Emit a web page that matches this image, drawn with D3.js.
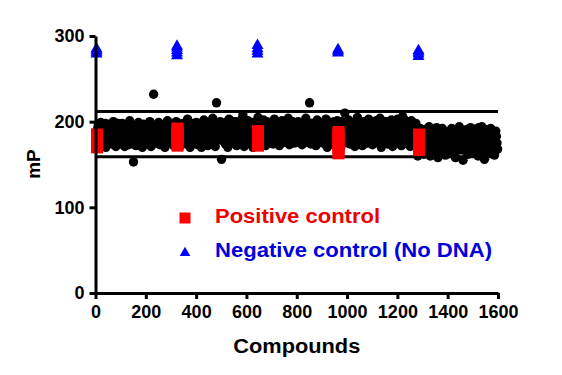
<!DOCTYPE html>
<html>
<head>
<meta charset="utf-8">
<script src="https://cdn.jsdelivr.net/npm/d3@7"></script>
<style>
  html, body { margin: 0; padding: 0; background: #fff; }
  svg { display: block; font-family: "Liberation Sans", Arial, sans-serif; font-weight: bold; }
</style>
</head>
<body>
<svg id="chart" width="562" height="375"></svg>
<script>
// compound readings, 20 per block of 100 compounds (one every 5)
var compoundStep = 5;
var compoundValues = [
  188, 172, 196, 181, 199, 175, 185, 192, 170, 183, 197, 178, 190, 174, 200, 186, 171, 194, 180, 189,
  176, 198, 184, 171, 193, 187, 173, 201, 179, 191, 153, 195, 172, 186, 199, 177, 189, 170, 197, 182,
  174, 192, 185, 200, 171, 188, 232, 196, 178, 184, 199, 173, 190, 181, 195, 170, 187, 201, 176, 193,
  183, 197, 172, 189, 200, 177, 194, 171, 186, 198, 180, 192, 174, 203, 185, 170, 196, 179, 190, 175,
  199, 173, 188, 195, 170, 184, 202, 178, 191, 172, 197, 182, 175, 204, 187, 171, 222, 193, 179, 200,
  156, 186, 198, 174, 191, 170, 203, 181, 195, 176, 189, 200, 172, 185, 197, 179, 193, 208, 171, 188,
  182, 201, 175, 193, 187, 170, 198, 179, 190, 205, 173, 186, 196, 177, 192, 172, 200, 184, 189, 176,
  194, 174, 203, 186, 179, 197, 172, 190, 201, 183, 176, 195, 188, 204, 173, 192, 181, 199, 175, 187,
  178, 200, 185, 193, 173, 196, 182, 204, 176, 189, 222, 174, 198, 187, 191, 172, 202, 180, 194, 184,
  197, 175, 188, 203, 170, 192, 181, 199, 186, 173, 195, 178, 201, 184, 190, 171, 198, 183, 210, 176,
  187, 202, 174, 194, 180, 199, 171, 190, 205, 177, 185, 196, 172, 200, 183, 192, 175, 203, 179, 189,
  173, 197, 186, 201, 176, 191, 204, 170, 188, 195, 181, 199, 174, 193, 184, 202, 171, 190, 198, 178,
  203, 180, 196, 172, 206, 188, 175, 199, 184, 193, 171, 201, 179, 190, 174, 186, 160, 176, 192, 168,
  185, 162, 191, 170, 178, 194, 160, 182, 188, 166, 175, 193, 158, 180, 187, 164, 190, 172, 161, 184,
  176, 189, 163, 192, 170, 183, 158, 187, 174, 194, 167, 181, 155, 190, 172, 185, 162, 179, 193, 168,
  188, 165, 191, 174, 160, 185, 179, 194, 169, 156, 183, 190, 163, 176, 192, 171, 186, 161, 189, 175
];
// the wells in between (offset by half a step)
var compoundValuesB = [
  180, 192, 177, 187, 195, 183, 179, 198, 186, 175, 191, 184, 196, 181, 177, 193, 185, 198, 174, 195,
  185, 179, 195, 190, 176, 181, 196, 184, 188, 174, 183, 179, 192, 178, 184, 194, 181, 196, 176, 190,
  195, 180, 178, 186, 194, 179, 184, 175, 190, 197, 181, 192, 177, 196, 183, 189, 179, 182, 194, 180,
  191, 176, 194, 181, 184, 196, 178, 188, 192, 177, 195, 183, 199, 180, 193, 188, 176, 198, 184, 197,
  181, 192, 177, 186, 198, 191, 176, 196, 180, 199, 185, 176, 194, 182, 178, 197, 189, 180, 195, 184,
  178, 195, 182, 199, 180, 194, 186, 176, 187, 200, 180, 175, 196, 191, 178, 202, 184, 187, 197, 180,
  194, 178, 190, 181, 199, 185, 180, 194, 183, 178, 196, 181, 188, 202, 180, 196, 178, 193, 199, 183,
  182, 197, 180, 195, 188, 178, 193, 184, 180, 199, 190, 178, 183, 180, 196, 185, 200, 177, 194, 191,
  193, 181, 196, 179, 189, 184, 199, 178, 197, 182, 184, 198, 179, 194, 180, 199, 185, 194, 177, 198,
  183, 199, 180, 181, 194, 185, 198, 176, 180, 200, 182, 191, 178, 196, 182, 200, 177, 193, 187, 197,
  180, 183, 196, 179, 191, 176, 193, 184, 181, 198, 192, 179, 190, 186, 199, 178, 195, 181, 200, 182,
  192, 180, 179, 189, 195, 182, 178, 197, 181, 177, 200, 184, 195, 180, 198, 178, 196, 183, 176, 194,
  185, 196, 178, 200, 183, 180, 201, 187, 195, 178, 199, 185, 194, 182, 198, 180, 183, 188, 166, 180,
  172, 187, 168, 182, 190, 166, 187, 175, 164, 185, 181, 169, 187, 174, 168, 192, 177, 183, 188, 170,
  183, 168, 186, 177, 188, 165, 180, 171, 191, 178, 185, 173, 188, 178, 165, 191, 176, 188, 171, 182,
  172, 185, 177, 186, 193, 170, 188, 166, 184, 191, 173, 178, 188, 167, 181, 186, 163, 178, 183, 168
];

// control wells, one group per plate
var plateStarts = [0, 320, 640, 960, 1280];
var positiveValues = [
  [170, 172, 175, 177, 180, 182, 184, 185],
  [172, 175, 178, 181, 184, 187, 190, 192],
  [172, 174, 177, 180, 183, 186, 188, 189],
  [163, 166, 170, 174, 178, 182, 185, 188],
  [167, 170, 173, 176, 179, 182, 184, 185]
];
var negativeValues = [
  [279, 281, 283, 285],
  [277, 280, 283, 286, 288],
  [279, 282, 285, 289],
  [280, 282, 284],
  [276, 279, 281, 283]
];

// hit limits
var thresholds = [159, 212];

var xTicks = [0, 200, 400, 600, 800, 1000, 1200, 1400, 1600];
var yTicks = [0, 100, 200, 300];

var svg = d3.select("#chart");

var x = d3.scaleLinear().domain([0, 1600]).range([95.5, 498]);
var y = d3.scaleLinear().domain([0, 300]).range([293, 36]);

/* compounds */
var compData = [];
compoundValues.forEach(function(v, i) { compData.push({ x: 1 + i * compoundStep, v: v }); });
compoundValuesB.forEach(function(v, i) { compData.push({ x: 3.5 + i * compoundStep, v: v }); });

svg.append("g")
  .selectAll("circle")
  .data(compData)
  .enter()
  .append("circle")
  .attr("cx", function(d) { return x(d.x); })
  .attr("cy", function(d) { return y(d.v); })
  .attr("r", 4.7)
  .attr("fill", "#000");

/* threshold lines */
svg.append("g")
  .selectAll("line")
  .data(thresholds)
  .enter()
  .append("line")
  .attr("x1", x(0))
  .attr("x2", x(1600))
  .attr("y1", function(d) { return y(d); })
  .attr("y2", function(d) { return y(d); })
  .attr("stroke", "#000")
  .attr("stroke-width", 3);

/* positive controls */
var posData = [];
positiveValues.forEach(function(vals, i) {
  vals.forEach(function(v) { posData.push({ x: plateStarts[i] + 6, v: v }); });
});
var sq = 12;
svg.append("g")
  .selectAll("rect")
  .data(posData)
  .enter()
  .append("rect")
  .attr("x", function(d) { return x(d.x) - sq / 2; })
  .attr("y", function(d) { return y(d.v) - sq / 2; })
  .attr("width", sq)
  .attr("height", sq)
  .attr("fill", "#ff0000");

/* negative controls */
var negData = [];
negativeValues.forEach(function(vals, i) {
  vals.forEach(function(v) { negData.push({ x: plateStarts[i] + 4, v: v }); });
});
var tri = d3.symbol().type(d3.symbolTriangle).size(62);
svg.append("g")
  .selectAll("path")
  .data(negData)
  .enter()
  .append("path")
  .attr("d", tri)
  .attr("transform", function(d) { return "translate(" + x(d.x) + "," + y(d.v) + ")"; })
  .attr("fill", "#0000ff");

/* axes */
var yAxis = svg.append("g")
  .attr("transform", "translate(" + x(0) + ",0)")
  .call(d3.axisLeft(y).tickValues(yTicks).tickFormat(d3.format("d"))
    .tickSize(6).tickSizeOuter(0).tickPadding(5));
var xAxis = svg.append("g")
  .attr("transform", "translate(0," + y(0) + ")")
  .call(d3.axisBottom(x).tickValues(xTicks).tickFormat(d3.format("d"))
    .tickSize(6).tickSizeOuter(0).tickPadding(6));

[yAxis, xAxis].forEach(function(a) {
  a.select(".domain").attr("stroke", "#000").attr("stroke-width", 3);
  a.selectAll(".tick line").attr("stroke", "#000").attr("stroke-width", 3);
  a.selectAll(".tick text")
    .attr("fill", "#000")
    .style("font-family", "'Liberation Sans', Arial, sans-serif")
    .style("font-weight", "bold")
    .style("font-size", "18px");
});

/* axis titles */
svg.append("text")
  .attr("x", (x(0) + x(1600)) / 2)
  .attr("y", 353)
  .attr("text-anchor", "middle")
  .attr("font-size", "20px")
  .attr("textLength", 127)
  .attr("lengthAdjust", "spacingAndGlyphs")
  .text("Compounds");

svg.append("text")
  .attr("transform", "translate(40,164) rotate(-90)")
  .attr("text-anchor", "middle")
  .attr("font-size", "19px")
  .text("mP");

/* legend */
var legend = svg.append("g");
legend.append("rect")
  .attr("x", 179.5).attr("y", 212.5)
  .attr("width", 11).attr("height", 11)
  .attr("fill", "#ff0000");
legend.append("path")
  .attr("d", d3.symbol().type(d3.symbolTriangle).size(50))
  .attr("transform", "translate(185,253)")
  .attr("fill", "#0000ff");
legend.append("text")
  .attr("x", 215).attr("y", 223)
  .attr("font-size", "20px")
  .attr("fill", "#ee0000")
  .attr("textLength", 165)
  .attr("lengthAdjust", "spacingAndGlyphs")
  .text("Positive control");
legend.append("text")
  .attr("x", 215).attr("y", 257)
  .attr("font-size", "20px")
  .attr("fill", "#0000dd")
  .attr("textLength", 277)
  .attr("lengthAdjust", "spacingAndGlyphs")
  .text("Negative control (No DNA)");
</script>
</body>
</html>
